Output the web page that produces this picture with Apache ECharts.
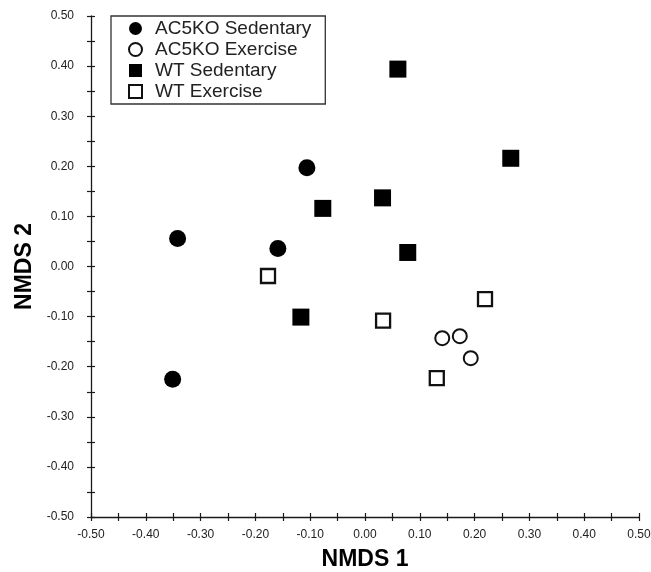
<!DOCTYPE html>
<html>
<head>
<meta charset="utf-8">
<script src="https://cdn.jsdelivr.net/npm/echarts@6/dist/echarts.min.js"></script>
<style>html,body{margin:0;padding:0;background:#fff}#c{width:651px;height:572px}</style>
</head>
<body>
<div id="c"></div>
<script>
var seriesNames = ['AC5KO Sedentary', 'AC5KO Exercise', 'WT Sedentary', 'WT Exercise'];
var ac5koSedentary = [[-0.106, 0.197], [-0.342, 0.056], [-0.159, 0.036], [-0.351, -0.225]];
var ac5koExercise = [[0.141, -0.143], [0.173, -0.139], [0.193, -0.183]];
var wtSedentary = [[0.060, 0.394], [0.266, 0.216], [0.032, 0.137], [0.078, 0.028], [-0.077, 0.116], [-0.117, -0.101]];
var wtExercise = [[-0.177, -0.019], [0.033, -0.108], [0.219, -0.065], [0.131, -0.223]];
var axisMin = -0.5, axisMax = 0.5, axisStep = 0.1;

var chart = echarts.init(document.getElementById('c'));
var ink = '#1a1a1a';
var FONT = '"Liberation Sans", Arial, Helvetica, sans-serif';
function fmt(v){ return v.toFixed(2); }
function baseAxis(extra){
  var a = {
    type: 'value', min: axisMin, max: axisMax, interval: axisStep,
    splitLine: {show: false},
    axisLine: {show: true, onZero: false, lineStyle: {color: ink, width: 1.3}},
    axisTick: {show: true, inside: false, length: 4, lineStyle: {color: ink, width: 1.2}},
    minorTick: {show: true, splitNumber: 2, length: 4, lineStyle: {color: ink, width: 1.2}},
    axisLabel: {show: true, formatter: fmt, color: '#222', fontSize: 12, fontFamily: FONT, showMinLabel: true, showMaxLabel: true}
  };
  for (var k in extra) a[k] = extra[k];
  return a;
}
function innerAxis(pos){
  return {
    type: 'value', min: axisMin, max: axisMax, interval: axisStep, position: pos,
    splitLine: {show: false},
    axisLine: {show: false, onZero: false},
    axisTick: {show: true, inside: true, length: 4, lineStyle: {color: ink, width: 1.2}},
    minorTick: {show: true, splitNumber: 2, length: 4, lineStyle: {color: ink, width: 1.2}},
    axisLabel: {show: false}
  };
}
var xa = baseAxis({position: 'bottom', name: 'NMDS 1', nameLocation: 'middle', nameGap: 31,
  nameTextStyle: {fontSize: 23, fontWeight: 'bold', color: '#000', fontFamily: FONT}});
xa.axisLabel.margin = 12;
var ya = baseAxis({position: 'left', name: 'NMDS 2', nameLocation: 'middle', nameGap: 55, nameRotate: 90,
  nameTextStyle: {fontSize: 23, fontWeight: 'bold', color: '#000', fontFamily: FONT}});
ya.axisLabel.margin = 17;

var option = {
  backgroundColor: '#fff',
  animation: false,
  grid: {left: 91, right: 12, top: 16, bottom: 55, containLabel: false, outerBoundsMode: 'none'},
  xAxis: [xa, innerAxis('bottom')],
  yAxis: [ya, innerAxis('left')],
  legend: {
    show: true, orient: 'vertical', left: 111, top: 16,
    data: seriesNames,
    itemWidth: 13, itemHeight: 13, itemGap: 2,
    borderColor: '#333', borderWidth: 1.3, borderRadius: 0,
    padding: [3, 14, 3, 17],
    backgroundColor: '#fff',
    selectedMode: false,
    textStyle: {fontSize: 19, color: '#222', fontFamily: FONT, lineHeight: 19, padding: [0, 0, 0, 8]}
  },
  series: [
    {name: seriesNames[0], type: 'scatter', data: ac5koSedentary, symbol: 'circle', symbolSize: 17,
      itemStyle: {color: '#000', opacity: 1}},
    {name: seriesNames[1], type: 'scatter', data: ac5koExercise, symbol: 'circle', symbolSize: 14,
      itemStyle: {color: '#fff', borderColor: '#111', borderWidth: 2, opacity: 1}},
    {name: seriesNames[2], type: 'scatter', data: wtSedentary, symbol: 'rect', symbolSize: 17,
      itemStyle: {color: '#000', opacity: 1}},
    {name: seriesNames[3], type: 'scatter', data: wtExercise, symbol: 'rect', symbolSize: 14,
      itemStyle: {color: '#fff', borderColor: '#111', borderWidth: 2.3, opacity: 1}}
  ]
};
chart.setOption(option);
</script>
</body>
</html>
